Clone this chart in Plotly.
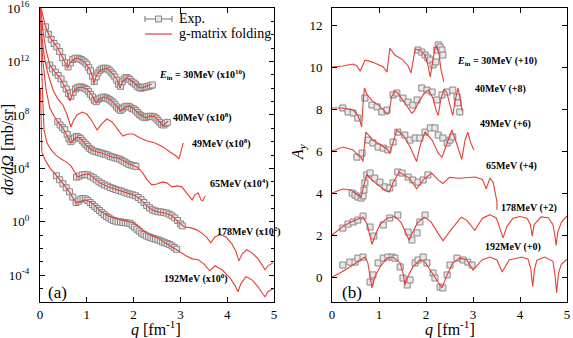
import numpy as np
import plotly.graph_objects as go

RED = "rgb(232,62,52)"
GREY = "rgb(135,135,135)"
FILL = "rgb(232,232,232)"
FONT = "Liberation Serif, Times New Roman, Times, DejaVu Serif, serif"
W, H = 573, 338

# ---------------- Panel (a): log10 of scaled dsigma/dOmega [mb/sr] ----------------
th30_q = [0.01,0.04,0.085,0.12,0.21,0.28,0.38,0.49,0.56,0.59,0.64,0.73,0.81,0.96,1.07,1.13,1.15,1.20,1.28,1.43,
          1.56,1.65,1.71,1.77,1.86,1.99,2.10,2.16,2.29,2.39]
th30_L = [16.2,15.7,15.1,14.6,13.83,13.46,13.0,12.26,11.8,11.51,11.9,12.19,12.26,11.96,11.36,10.77,10.32,10.9,11.36,11.51,
          11.07,10.62,10.02,10.55,10.77,10.47,10.1,10.02,10.17,10.32]

th40_q = [0.02,0.06,0.13,0.21,0.32,0.43,0.51,0.58,0.64,0.71,0.79,0.90,1.00,1.11,1.20,1.26,1.37,1.45,1.56,1.67,
          1.73,1.82,1.90,2.01,2.12,2.26,2.35,2.46,2.56,2.63,2.69,2.74]
th40_L = [15.85,14.36,12.86,11.74,11.21,10.77,10.24,9.72,9.05,9.72,10.02,10.09,9.94,9.5,8.9,9.2,9.35,9.27,8.97,8.52,
          8.3,8.6,8.67,8.45,8.07,7.78,7.93,7.85,7.48,7.18,7.4,7.55]

th49_q = [0.02,0.04,0.085,0.15,0.21,0.28,0.38,0.49,0.58,0.64,0.66,0.71,0.79,0.90,1.00,1.11,1.22,1.32,1.43,1.54,
          1.65,1.77,1.88,1.99,2.14,2.29,2.46,2.63,2.78,2.91,2.97,3.01,3.06]
th49_L = [15.1,14.0,12.5,11.36,10.62,9.87,9.2,8.75,8.0,7.4,7.1,7.55,8.0,8.22,8.07,7.55,6.88,7.33,7.7,7.48,
          6.95,6.43,6.58,6.58,6.28,6.06,5.91,5.61,5.23,4.93,4.71,5.16,5.91]

th65_q = [0.02,0.06,0.13,0.21,0.30,0.38,0.49,0.60,0.66,0.73,0.81,0.90,1.00,1.11,1.22,1.32,1.43,1.54,1.65,1.75,
          1.86,1.97,2.07,2.18,2.29,2.39,2.50,2.61,2.71,2.82,2.93,3.03,3.14,3.25,3.31,3.38,3.44,3.48,3.53]
th65_L = [14.35,12.1,9.87,8.52,7.93,7.48,7.03,6.36,5.91,6.2,6.36,6.13,5.68,5.38,5.23,5.16,5.01,4.86,4.79,4.64,
          4.41,4.26,4.11,3.74,3.14,2.77,2.84,2.99,2.92,2.62,2.69,2.62,2.17,1.64,2.02,2.17,1.64,1.57,1.94]

th178_q = [0.01,0.03,0.085,0.15,0.24,0.34,0.45,0.56,0.66,0.75,0.81,0.90,1.03,1.15,1.28,1.45,1.65,1.82,1.99,2.14,
           2.26,2.39,2.52,2.67,2.82,2.95,3.08,3.23,3.35,3.48,3.57,3.65,3.74,3.85,3.97,4.10,4.19,4.25,4.32,4.42,
           4.53,4.66,4.74,4.81,4.87,4.98]
th178_L = [16.5,12.0,6.9,5.9,5.38,5.0,4.71,4.49,4.19,3.66,3.36,3.51,3.59,3.29,2.92,2.62,2.39,2.17,2.02,1.72,
           1.27,0.9,0.75,0.67,0.45,0.0,-0.37,-0.45,-0.6,-0.9,-1.2,-1.57,-1.12,-0.97,-1.12,-1.65,-2.24,-2.92,-2.39,-2.09,
           -2.32,-2.77,-3.22,-3.59,-3.29,-3.07]

th192_q = [0.01,0.03,0.04,0.11,0.21,0.32,0.43,0.53,0.64,0.73,0.79,0.85,0.96,1.07,1.18,1.28,1.45,1.65,1.82,1.99,
           2.14,2.24,2.39,2.52,2.67,2.82,2.99,3.12,3.25,3.38,3.5,3.63,3.74,3.89,4.06,4.17,4.23,4.29,4.40,4.53,
           4.66,4.76,4.81,4.87,4.98]
th192_L = [10,6.5,5.23,4.64,4.04,3.59,3.14,2.69,2.17,1.64,1.42,1.5,1.64,1.5,1.2,0.82,0.45,0.22,0.07,-0.07,
           -0.45,-0.75,-1.05,-1.2,-1.57,-1.87,-2.24,-2.54,-2.77,-2.84,-3.14,-3.66,-3.29,-3.59,-4.19,-4.79,-5.23,-4.64,-4.11,-4.34,
           -4.86,-5.38,-5.61,-5.23,-5.01]

ex30_q = [0.12,0.18,0.24,0.30,0.36,0.42,0.48,0.54,0.60,0.65,0.70,0.75,0.80,0.84,0.88,0.92,0.96,1.00,1.04,1.08,
          1.12,1.16,1.20,1.24,1.28,1.32,1.36,1.40,1.44,1.48,1.52,1.56,1.60,1.64,1.68,1.72,1.76,1.80,1.84,1.88,
          1.92,1.96,2.00,2.04,2.08,2.12,2.16,2.20,2.24,2.28,2.32,2.36,2.40]
ex30_L = [14.6,14.05,13.65,13.35,13.1,12.75,12.3,11.9,11.6,11.9,12.15,12.25,12.25,12.2,12.15,12.05,11.95,11.8,11.55,11.3,
          10.9,10.5,10.85,11.15,11.35,11.45,11.5,11.5,11.45,11.35,11.2,11.05,10.85,10.6,10.3,10.15,10.5,10.7,10.8,10.75,
          10.65,10.5,10.4,10.3,10.15,10.05,10.0,10.05,10.1,10.1,10.15,10.2,10.25]

ex40_q = [0.21,0.27,0.33,0.39,0.45,0.51,0.56,0.61,0.66,0.71,0.76,0.80,0.84,0.88,0.92,0.96,1.00,1.04,1.08,1.12,
          1.16,1.20,1.24,1.28,1.32,1.36,1.40,1.44,1.48,1.52,1.56,1.60,1.64,1.68,1.72,1.76,1.80,1.84,1.88,1.92,
          1.96,2.00,2.04,2.08,2.12,2.16,2.20,2.24,2.28,2.32,2.36,2.40,2.44,2.48,2.52,2.56,2.60,2.64,2.68,2.72]
ex40_L = [11.74,11.45,11.2,10.95,10.7,10.3,9.95,9.6,9.4,9.7,9.95,10.05,10.1,10.1,10.05,10.0,9.9,9.75,9.55,9.35,
          9.1,9.0,9.15,9.25,9.3,9.35,9.3,9.25,9.15,9.05,8.95,8.8,8.6,8.45,8.35,8.45,8.6,8.65,8.65,8.6,
          8.5,8.45,8.35,8.2,8.05,7.95,7.85,7.8,7.85,7.9,7.9,7.9,7.85,7.75,7.6,7.45,7.3,7.25,7.35,7.45]

ex65_q = [0.38,0.43,0.48,0.53,0.58,0.62,0.66,0.70,0.74,0.78,0.82,0.86,0.90,0.94,0.98,1.02,1.06,1.10,1.15,1.20,
          1.25,1.30,1.35,1.40,1.45,1.50,1.55,1.60,1.65,1.70,1.75,1.80,1.85,1.90,1.95,2.00,2.05]
ex65_L = [7.5,7.25,7.05,6.9,6.55,6.2,6.0,6.15,6.3,6.4,6.35,6.25,6.1,5.95,5.8,5.65,5.5,5.4,5.3,5.25,
          5.2,5.15,5.1,5.05,5.0,4.9,4.85,4.8,4.75,4.7,4.6,4.5,4.4,4.3,4.25,4.2,4.15]

ex178_q = [0.78,0.84,0.90,0.96,1.02,1.08,1.14,1.20,1.26,1.32,1.38,1.44,1.50,1.56,1.62,1.68,1.74,1.80,1.86,1.92,
           1.98,2.04,2.10,2.16,2.22,2.28,2.34,2.40,2.46,2.52,2.58,2.64,2.70,2.76,2.82,2.88,2.94,3.00,3.04]
ex178_L = [3.35,3.42,3.52,3.55,3.52,3.42,3.3,3.15,3.0,2.88,2.76,2.68,2.58,2.5,2.42,2.36,2.3,2.22,2.14,2.08,
           2.02,1.95,1.82,1.65,1.45,1.22,1.05,0.9,0.82,0.76,0.74,0.71,0.66,0.57,0.45,0.3,0.1,-0.15,-0.3]

ex192_q = [0.35,0.42,0.49,0.56,0.63,0.70,0.77,0.82,0.87,0.92,0.97,1.02,1.07,1.12,1.17,1.22,1.27,1.32,1.37,1.42,
           1.47,1.52,1.57,1.62,1.67,1.72,1.77,1.82,1.87,1.92,1.97,2.02,2.07,2.12,2.17,2.22,2.27,2.32,2.37,2.42,
           2.47,2.52,2.57,2.62,2.67,2.72,2.77,2.82,2.87,2.92]
ex192_L = [3.45,3.15,2.85,2.55,2.25,1.85,1.45,1.55,1.7,1.75,1.72,1.6,1.45,1.3,1.15,1.0,0.85,0.7,0.55,0.4,
           0.3,0.2,0.1,0.05,0.0,0.0,-0.05,-0.05,-0.1,-0.1,-0.25,-0.4,-0.55,-0.7,-0.85,-0.95,-1.05,-1.12,-1.18,-1.25,
           -1.3,-1.35,-1.42,-1.5,-1.57,-1.63,-1.7,-1.8,-1.92,-2.05]

# ---------------- Panel (b): A_y with offsets already included ----------------
b30_th_q = [0.0,0.23,0.45,0.53,0.60,0.64,0.70,0.79,0.91,1.09,1.15,1.17,1.23,1.34,1.51,1.62,1.68,1.72,1.77,1.87,
            1.98,2.04,2.09,2.13,2.19,2.23,2.28,2.32,2.36,2.38]
b30_th_A = [10.0,10.05,10.14,10.05,9.8,10.05,10.33,10.28,10.19,10.0,9.81,9.76,10.9,10.57,10.33,10.05,9.71,10.33,10.86,10.8,
            10.57,10.1,9.52,10.1,10.9,11.0,10.57,9.86,9.38,9.29]
b40_th_q = [0.0,0.23,0.45,0.55,0.60,0.63,0.66,0.69,0.74,0.85,0.98,1.10,1.17,1.21,1.27,1.34,1.40,1.51,1.62,1.70,
            1.75,1.86,1.98,2.06,2.15,2.22,2.26,2.31,2.38,2.44,2.52,2.57,2.62,2.68,2.72,2.77]
b40_th_A = [8.05,8.05,7.95,7.7,7.4,7.15,8.2,9.0,8.7,8.4,8.2,7.95,7.75,7.8,8.6,8.85,8.75,8.4,8.0,7.8,
            7.9,8.4,8.8,8.9,8.5,7.9,7.7,8.4,8.95,8.8,8.1,7.7,8.4,9.0,8.6,7.9]
b49_th_q = [0.0,0.23,0.45,0.55,0.62,0.66,0.69,0.72,0.87,1.05,1.17,1.23,1.31,1.38,1.51,1.66,1.75,1.80,1.88,1.98,
            2.13,2.26,2.34,2.45,2.55,2.66,2.76,2.83,2.89,2.95,3.02]
b49_th_A = [6.0,6.19,6.05,5.81,5.7,5.5,6.3,6.9,6.52,6.25,6.1,5.9,6.5,7.0,6.76,6.2,5.75,5.5,6.3,6.9,
            6.52,5.9,5.7,6.4,7.0,6.3,5.6,6.5,6.9,6.4,6.05]
b65_th_q = [0.0,0.23,0.40,0.55,0.62,0.66,0.74,0.85,1.02,1.15,1.22,1.30,1.43,1.65,1.80,1.95,2.12,2.27,2.36,2.50,
            2.70,2.90,3.05,3.20,3.28,3.36,3.43,3.49,3.51,3.51]
b65_th_A = [4.0,4.19,4.14,3.9,3.8,4.2,4.9,4.6,4.3,4.1,4.05,4.5,5.0,4.7,4.2,4.65,4.95,4.6,4.45,4.75,
            4.7,4.72,4.76,4.65,4.2,4.71,4.5,3.8,3.6,3.19]
b178_th_q = [0.0,0.11,0.23,0.40,0.55,0.66,0.75,0.81,0.85,0.92,1.02,1.17,1.34,1.47,1.56,1.64,1.70,1.81,1.96,2.10,
             2.25,2.36,2.55,2.75,2.87,2.98,3.04,3.20,3.36,3.50,3.60,3.64,3.72,3.85,4.00,4.15,4.22,4.26,4.30,4.45,
             4.60,4.70,4.74,4.77,4.80,4.88,5.0]
b178_th_A = [2.0,2.2,2.4,2.62,2.78,2.86,2.5,1.9,1.55,2.0,2.5,2.8,2.88,2.6,2.1,1.75,2.05,2.55,2.85,2.65,
             2.1,1.72,2.3,2.85,2.7,2.35,2.22,2.8,2.97,2.8,2.2,1.86,2.4,2.8,2.88,2.8,2.5,1.95,2.5,2.86,
             2.82,2.5,2.0,1.5,2.1,2.6,2.9]
b192_th_q = [0.0,0.17,0.38,0.60,0.70,0.76,0.81,0.85,0.91,1.02,1.17,1.30,1.45,1.52,1.55,1.60,1.72,1.87,1.98,2.15,
             2.34,2.45,2.57,2.72,2.87,3.00,3.19,3.36,3.51,3.62,3.77,4.04,4.17,4.23,4.27,4.31,4.36,4.53,4.70,4.74,
             4.78,4.82,4.88,5.0]
b192_th_A = [0.0,0.19,0.48,0.81,0.95,0.7,0.0,-0.52,0.0,0.48,0.9,0.95,0.67,0.1,-0.38,-0.05,0.48,0.81,0.71,0.1,
             -0.52,0.1,0.67,0.9,0.81,0.33,0.81,0.95,0.81,0.24,0.81,0.95,0.85,0.4,-0.45,0.4,0.8,0.95,0.75,0.2,
             -0.75,0.2,0.6,0.85]

b30_ex_q = [1.83,1.91,1.98,2.04,2.09,2.15,2.21,2.23,2.26,2.30,2.34,2.36]
b30_ex_A = [10.81,10.71,10.57,10.43,10.33,10.1,10.24,10.81,11.05,10.95,10.81,10.57]
b40_ex_q = [0.23,0.34,0.45,0.55,0.70,0.85,0.96,1.06,1.17,1.30,1.38,1.51,1.62,1.72,1.81,1.91,2.02,2.13,2.23,2.34,
            2.45,2.57,2.66,2.68,2.72]
b40_ex_A = [8.05,7.86,7.81,7.57,8.52,8.19,8.1,7.86,7.95,8.67,8.76,8.52,8.33,8.19,8.43,9.0,8.9,8.81,8.43,8.67,
            8.81,8.9,8.57,8.29,7.86]
b49_ex_q = [0.53,0.64,0.77,0.87,0.98,1.09,1.19,1.30,1.40,1.55,1.66,1.77,1.87,1.98,2.09,2.19,2.26,2.36,2.45,2.51,2.57]
b49_ex_A = [5.71,5.9,6.52,6.38,6.19,6.14,6.05,6.43,6.9,6.76,6.52,6.62,6.62,6.9,7.1,7.1,6.76,6.62,6.38,6.52,6.67]
b65_ex_q = [0.43,0.49,0.55,0.62,0.66,0.68,0.70,0.74,0.81,0.91,1.02,1.13,1.23,1.30,1.40,1.49,1.62,1.72,1.83,1.94,2.04]
b65_ex_A = [4.0,3.9,3.81,3.76,3.86,4.14,4.48,4.86,4.95,4.71,4.52,4.29,4.24,4.48,5.0,4.95,4.76,4.62,4.52,4.62,4.86]
b178_ex_q = [0.23,0.34,0.45,0.55,0.66,0.81,0.89,1.09,1.23,1.40,1.62,1.70,1.81,1.87,1.98]
b178_ex_A = [2.33,2.52,2.62,2.71,2.9,2.38,1.95,2.48,2.81,2.95,2.14,1.76,2.1,2.62,2.95]
b192_ex_q = [0.23,0.38,0.49,0.55,0.66,0.81,0.87,0.98,1.09,1.19,1.28,1.34,1.45,1.51,1.60,1.66,1.77,1.83,1.94,2.02,
             2.15,2.19,2.30,2.36,2.45,2.51,2.66,2.79,2.89,2.98]
b192_ex_A = [0.57,0.71,0.71,0.9,0.95,-0.24,0.1,0.67,0.9,0.95,0.95,0.9,0.48,-0.05,-0.38,-0.14,0.67,0.81,0.95,0.67,
             0.19,-0.05,-0.48,-0.52,0.1,0.57,0.9,0.81,0.71,0.57]

labels_a = ["<b><i>E</i><sub>in</sub> = 30MeV (x10<sup>10</sup>)</b>", "<b>40MeV (x10<sup>8</sup>)</b>",
            "<b>49MeV (x10<sup>8</sup>)</b>", "<b>65MeV (x10<sup>4</sup>)</b>",
            "<b>178MeV (x10<sup>2</sup>)</b>", "<b>192MeV (x10<sup>0</sup>)</b>"]
labels_b = ["<b><i>E</i><sub>in</sub> = 30MeV (+10)</b>", "<b>40MeV (+8)</b>", "<b>49MeV (+6)</b>",
            "<b>65MeV (+4)</b>", "<b>178MeV (+2)</b>", "<b>192MeV (+0)</b>"]

fig = go.Figure()

def px_x(x):
    return x / W

def px_y(y):
    return 1 - y / H

marker = dict(symbol="square", size=6, color=FILL, line=dict(color=GREY, width=1))

# experimental (panel a)
for q, L, e in [(ex30_q, ex30_L, 0.14), (ex40_q, ex40_L, 0.14), (ex65_q, ex65_L, 0.05),
                (ex178_q, ex178_L, 0.0), (ex192_q, ex192_L, 0.0)]:
    v = 10 ** np.array(L)
    err = dict(type="data", array=v * (10 ** e - 1), arrayminus=v * (1 - 10 ** -e),
               color=GREY, thickness=1.6, width=1.5, visible=e > 0)
    fig.add_trace(go.Scatter(x=q, y=v, mode="markers", marker=marker, error_y=err,
                             xaxis="x", yaxis="y", showlegend=False))
# theory (panel a)
for q, L in [(th30_q, th30_L), (th40_q, th40_L), (th49_q, th49_L), (th65_q, th65_L),
             (th178_q, th178_L), (th192_q, th192_L)]:
    fig.add_trace(go.Scatter(x=q, y=10 ** np.array(L), mode="lines", line=dict(color=RED, width=1.1),
                             xaxis="x", yaxis="y", showlegend=False))
# experimental (panel b)
for q, A in [(b30_ex_q, b30_ex_A), (b40_ex_q, b40_ex_A), (b49_ex_q, b49_ex_A), (b65_ex_q, b65_ex_A),
             (b178_ex_q, b178_ex_A), (b192_ex_q, b192_ex_A)]:
    fig.add_trace(go.Scatter(x=q, y=A, mode="markers", marker=marker,
                             xaxis="x2", yaxis="y2", showlegend=False))
# theory (panel b)
for q, A in [(b30_th_q, b30_th_A), (b40_th_q, b40_th_A), (b49_th_q, b49_th_A), (b65_th_q, b65_th_A),
             (b178_th_q, b178_th_A), (b192_th_q, b192_th_A)]:
    fig.add_trace(go.Scatter(x=q, y=A, mode="lines", line=dict(color=RED, width=1.1),
                             xaxis="x2", yaxis="y2", showlegend=False))

axis_common = dict(showline=True, linecolor="black", linewidth=1, mirror="allticks", ticks="inside",
                   ticklen=5, tickcolor="black", showgrid=False, zeroline=False, ticklabeloverflow="allow",
                   automargin=False, tickfont=dict(family=FONT, size=13, color="black"))

ydom = [1 - 302 / H, 1 - 8 / H]
fig.update_layout(
    width=W, height=H, margin=dict(l=0, r=0, t=0, b=0, autoexpand=False),
    paper_bgcolor="white", plot_bgcolor="white", showlegend=False,
    font=dict(family=FONT, color="black"),
    xaxis=dict(domain=[40 / W, 274 / W], range=[0, 5], anchor="y", tickvals=[0, 1, 2, 3, 4, 5], **axis_common),
    yaxis=dict(domain=ydom, type="log", range=[-6, 16.01], anchor="x",
               tickvals=[1e-4, 1e0, 1e4, 1e8, 1e12, 1e16],
               ticktext=["10<sup>-4</sup>", "10<sup>0</sup>", "10<sup>4</sup>", "10<sup>8</sup>",
                         "10<sup>12</sup>", "10<sup>16</sup>"],
               minor=dict(tickvals=[10.0 ** k for k in range(-6, 17)], ticks="inside", ticklen=3,
                          tickcolor="black"),
               ticklabelstandoff=7, **axis_common),
    xaxis2=dict(domain=[332 / W, 567 / W], range=[0, 5], anchor="y2", tickvals=[0, 1, 2, 3, 4, 5], **axis_common),
    yaxis2=dict(domain=ydom, range=[-1.19, 12.81], anchor="x2", tickvals=[0, 2, 4, 6, 8, 10, 12],
                ticklabelstandoff=6, **axis_common),
)

ann = []
lab_font = dict(family=FONT, size=10, color="black")
for txt, (x, y) in zip(labels_a, [(157, 75), (171, 117), (190, 143), (208, 183), (215, 232), (162, 278)]):
    ann.append(dict(text=txt, x=px_x(x), y=px_y(y), xref="paper", yref="paper", xanchor="left",
                    yanchor="middle", showarrow=False, font=lab_font))
for txt, (x, y) in zip(labels_b, [(455, 61), (473, 89), (478, 124), (484, 166), (499, 208), (483, 247)]):
    ann.append(dict(text=txt, x=px_x(x), y=px_y(y), xref="paper", yref="paper", xanchor="left",
                    yanchor="middle", showarrow=False, font=lab_font))
big = dict(family=FONT, size=17, color="black")
ann.append(dict(text="(a)", x=px_x(46), y=px_y(292), xref="paper", yref="paper", xanchor="left",
                yanchor="middle", showarrow=False, font=big))
ann.append(dict(text="(b)", x=px_x(340), y=px_y(292), xref="paper", yref="paper", xanchor="left",
                yanchor="middle", showarrow=False, font=big))
tfont = dict(family=FONT, size=16, color="black")
ann.append(dict(text="<i>q</i> [fm<sup>-1</sup>]", x=px_x(156), y=px_y(328), xref="paper", yref="paper",
                xanchor="center", yanchor="middle", showarrow=False, font=tfont))
ann.append(dict(text="<i>q</i> [fm<sup>-1</sup>]", x=px_x(450), y=px_y(328), xref="paper", yref="paper",
                xanchor="center", yanchor="middle", showarrow=False, font=tfont))
ann.append(dict(text="<i>dσ/dΩ</i> [mb/sr]", x=px_x(7), y=px_y(150), xref="paper", yref="paper",
                xanchor="center", yanchor="middle", showarrow=False, textangle=-90, font=tfont))
ann.append(dict(text="<i>A<sub>y</sub></i>", x=px_x(298), y=px_y(152), xref="paper", yref="paper",
                xanchor="center", yanchor="middle", showarrow=False, textangle=-90, font=tfont))
legfont = dict(family=FONT, size=14, color="black")
ann.append(dict(text="Exp.", x=px_x(177), y=px_y(18), xref="paper", yref="paper", xanchor="left",
                yanchor="middle", showarrow=False, font=legfont))
ann.append(dict(text="g-matrix folding", x=px_x(177), y=px_y(34), xref="paper", yref="paper", xanchor="left",
                yanchor="middle", showarrow=False, font=legfont))
fig.update_layout(annotations=ann)

shapes = [
    dict(type="line", xref="paper", yref="paper", x0=px_x(145), x1=px_x(172), y0=px_y(19), y1=px_y(19),
         line=dict(color=GREY, width=1.2)),
    dict(type="line", xref="paper", yref="paper", x0=px_x(145), x1=px_x(145), y0=px_y(16), y1=px_y(22),
         line=dict(color=GREY, width=1.2)),
    dict(type="line", xref="paper", yref="paper", x0=px_x(172), x1=px_x(172), y0=px_y(16), y1=px_y(22),
         line=dict(color=GREY, width=1.2)),
    dict(type="rect", xref="paper", yref="paper", x0=px_x(155.5), x1=px_x(161.5), y0=px_y(16), y1=px_y(22),
         line=dict(color=GREY, width=1), fillcolor=FILL),
    dict(type="line", xref="paper", yref="paper", x0=px_x(145), x1=px_x(172), y0=px_y(34), y1=px_y(34),
         line=dict(color=RED, width=1.2)),
]
fig.update_layout(shapes=shapes)

fig.write_html("out.html")
